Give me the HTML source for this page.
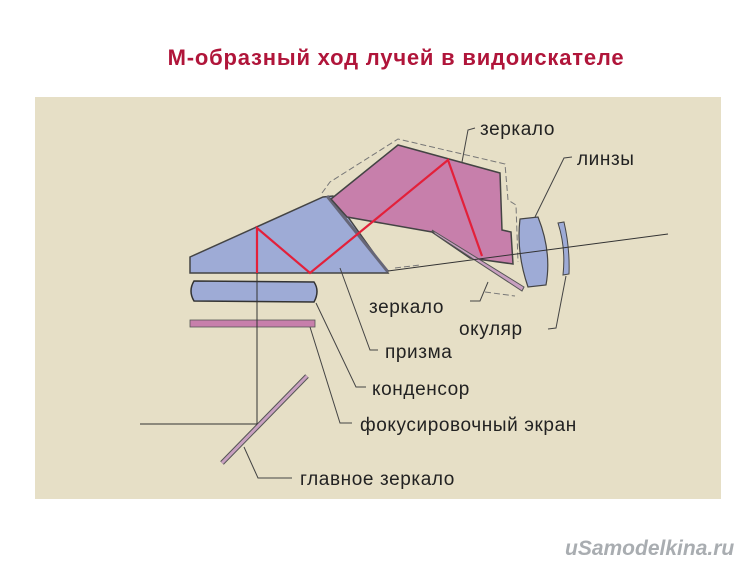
<!DOCTYPE html>
<html><head><meta charset="utf-8"><style>
html,body{margin:0;padding:0;background:#fff;}
body{width:750px;height:574px;overflow:hidden;position:relative;font-family:"Liberation Sans",sans-serif;}
</style></head><body>
<svg width="750" height="574" viewBox="0 0 750 574" xmlns="http://www.w3.org/2000/svg" style="position:absolute;left:0;top:0">
<rect x="0" y="0" width="750" height="574" fill="#fff"/>
<rect x="35" y="97" width="686" height="402" fill="#e6dfc6"/>
<text x="396" y="65" text-anchor="middle" font-family="Liberation Sans" font-weight="bold" font-size="22" letter-spacing="0.8" fill="#b0153a">М-образный ход лучей в видоискателе</text>
<path d="M322,193 L330,182 L398,139 L505,164 L508,200 L516,205 L518,262" fill="none" stroke="#777" stroke-width="1" stroke-dasharray="6,3"/>
<path d="M395,268 L420,265 M485,292 L515,296" fill="none" stroke="#777" stroke-width="1" stroke-dasharray="6,3"/>
<polygon points="190,257 323,197 333,196 388,273 190,273" fill="#9eabd6" stroke="#444" stroke-width="1.5"/>
<line x1="327" y1="196" x2="388" y2="272" stroke="#667" stroke-width="3"/>
<polygon points="331,199 398,145 500,173 502,230 511,232 513,264 470,258 432,232 347,217" fill="#c77fab" stroke="#444" stroke-width="1.5"/>
<polygon points="432,230 435,234 522,291 524,287" fill="#c8a0c0" stroke="#555" stroke-width="1"/>
<path d="M520,219 L538,217 Q552,252 546,285 L528,287 Q516,252 520,219 Z" fill="#9eabd6" stroke="#444" stroke-width="1.2"/>
<path d="M558,223 L564,222 Q570,248 569,274 L563,275 Q566,248 558,223 Z" fill="#9eabd6" stroke="#444" stroke-width="1"/>
<line x1="388" y1="271" x2="668" y2="234" stroke="#333" stroke-width="1"/>
<path d="M194,281 L314,282 Q320,291 314,302 L194,301 Q188,291 194,281 Z" fill="#9eabd6" stroke="#333" stroke-width="1.5"/>
<rect x="190" y="320" width="125" height="7" fill="#c77fab" stroke="#555" stroke-width="0.8"/>
<line x1="222" y1="463" x2="307" y2="376" stroke="#555" stroke-width="5"/>
<line x1="222" y1="463" x2="307" y2="376" stroke="#c8a0c0" stroke-width="3"/>
<line x1="257" y1="273" x2="257" y2="424" stroke="#333" stroke-width="1"/>
<line x1="140" y1="424" x2="257" y2="424" stroke="#333" stroke-width="1"/>
<polyline points="257,273 257,228 310,273 448,160 482,256" fill="none" stroke="#e3203a" stroke-width="2.2"/>
<g fill="none" stroke="#444" stroke-width="1">
<polyline points="475,128 468,130 462,162"/>
<polyline points="572,157 564,158 535,217"/>
<polyline points="470,301 480,301 488,282"/>
<polyline points="548,329 556,328 566,276"/>
<polyline points="378,350 370,350 340,268"/>
<polyline points="366,387 356,387 316,303"/>
<polyline points="352,423 340,423 310,327"/>
<polyline points="292,478 258,478 244,447"/>
</g>
<g font-family="Liberation Sans" font-size="19" letter-spacing="0.6" fill="#222">
<text x="480" y="135">зеркало</text>
<text x="577" y="165">линзы</text>
<text x="369" y="313">зеркало</text>
<text x="459" y="335">окуляр</text>
<text x="385" y="358">призма</text>
<text x="372" y="395">конденсор</text>
<text x="360" y="431">фокусировочный экран</text>
<text x="300" y="485">главное зеркало</text>
</g>
<text x="565" y="555" font-family="Liberation Sans" font-weight="bold" font-style="italic" font-size="21" fill="#a9adb1">uSamodelkina.ru</text>
</svg>
</body></html>
